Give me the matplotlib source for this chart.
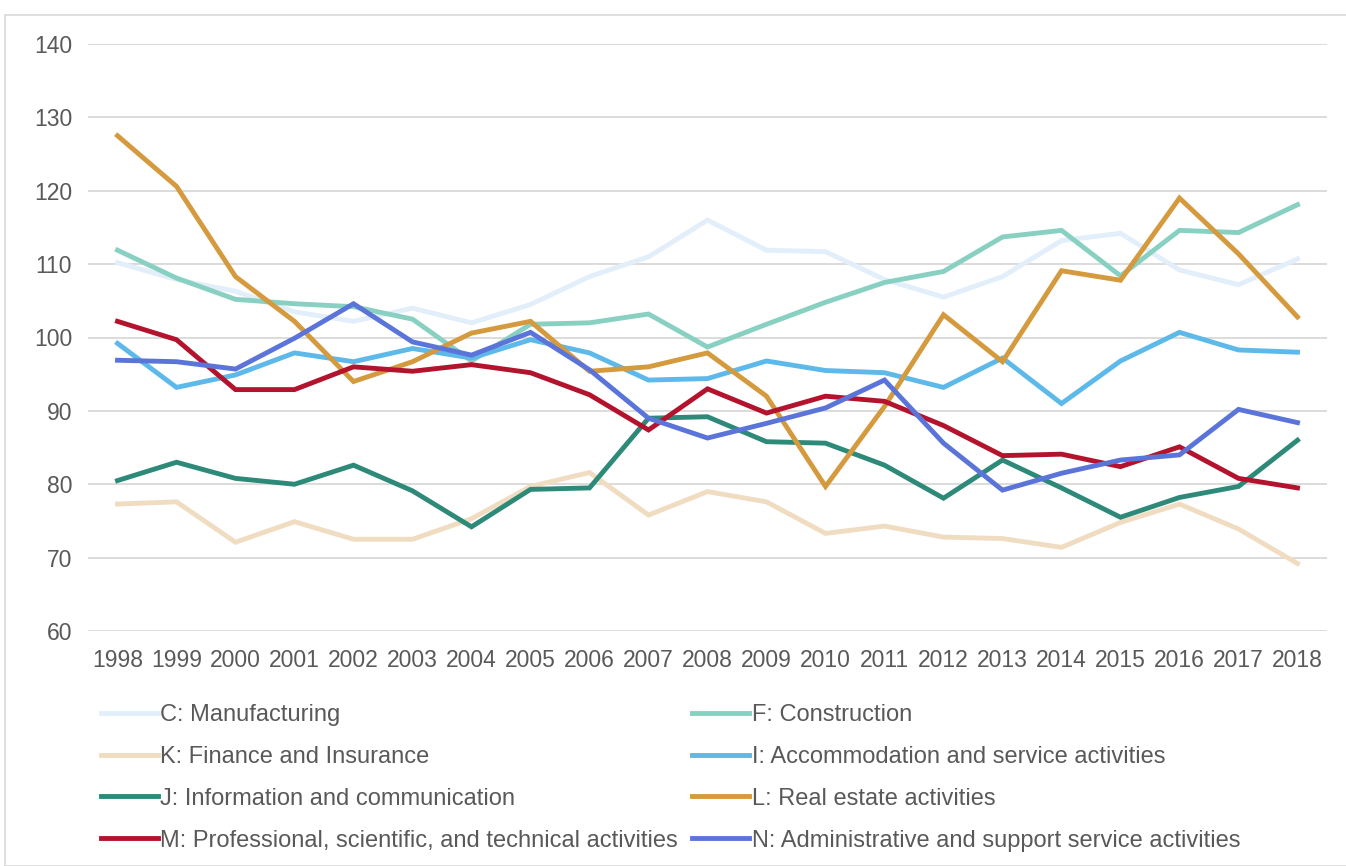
import matplotlib
matplotlib.use("Agg")
import matplotlib.pyplot as plt
from matplotlib.patches import Rectangle

plt.rcParams["font.family"] = ["Liberation Sans", "DejaVu Sans"]

years = list(range(1998, 2019))

manufacturing = [110.2, 107.9, 106.3, 103.5, 102.2, 104.0, 102.0, 104.5, 108.3, 111.0, 116.0,
                 111.9, 111.7, 107.9, 105.5, 108.3, 113.2, 114.2, 109.2, 107.2, 110.7]
construction = [111.9, 108.1, 105.2, 104.6, 104.2, 102.5, 96.8, 101.8, 102.0, 103.2, 98.7,
                101.8, 104.8, 107.5, 109.0, 113.7, 114.6, 108.4, 114.6, 114.3, 118.1]
finance = [77.3, 77.6, 72.1, 74.9, 72.5, 72.5, 75.3, 79.7, 81.6, 75.8, 79.0,
           77.6, 73.3, 74.3, 72.8, 72.6, 71.4, 74.8, 77.3, 73.9, 69.2]
accommodation = [99.2, 93.2, 94.9, 97.9, 96.7, 98.5, 97.2, 99.7, 97.9, 94.2, 94.4,
                 96.8, 95.5, 95.2, 93.2, 97.2, 91.0, 96.8, 100.7, 98.3, 98.0]
information = [80.5, 83.0, 80.8, 80.0, 82.6, 79.1, 74.2, 79.3, 79.5, 89.0, 89.2,
               85.8, 85.6, 82.6, 78.1, 83.3, 79.5, 75.5, 78.2, 79.7, 86.0]
real_estate = [127.5, 120.6, 108.3, 102.2, 94.0, 96.7, 100.6, 102.2, 95.4, 96.0, 97.9,
               92.0, 79.7, 90.6, 103.1, 96.7, 109.1, 107.8, 119.0, 111.4, 102.8]
professional = [102.2, 99.7, 92.9, 92.9, 96.0, 95.4, 96.3, 95.2, 92.2, 87.4, 93.0,
                89.7, 92.0, 91.3, 88.0, 83.9, 84.1, 82.4, 85.1, 80.8, 79.5]
administrative = [96.9, 96.7, 95.7, 99.9, 104.6, 99.4, 97.6, 100.7, 95.6, 89.0, 86.3,
                  88.3, 90.4, 94.2, 85.6, 79.2, 81.5, 83.3, 84.0, 90.2, 88.4]

series = [
    ("C: Manufacturing", manufacturing, "#e2eef9"),
    ("F: Construction", construction, "#88d0c1"),
    ("K: Finance and Insurance", finance, "#f0dcc0"),
    ("I: Accommodation and service activities", accommodation, "#5cb9e9"),
    ("J: Information and communication", information, "#2e8a78"),
    ("L: Real estate activities", real_estate, "#d49a3d"),
    ("M: Professional, scientific, and technical activities", professional, "#b3132c"),
    ("N: Administrative and support service activities", administrative, "#5b74d9"),
]

fig = plt.figure(figsize=(13.46, 8.66), dpi=100)
ax = fig.add_axes([88 / 1346, 1 - 631 / 866, 1239 / 1346, 587 / 866])

handles = {}
for name, vals, color in series:
    line, = ax.plot(years, vals, color=color, linewidth=3.5, label=name,
                    solid_joinstyle="miter")
    handles[name] = line

ax.set_xlim(1997.5, 2018.5)
ax.set_ylim(60, 140)
ax.set_yticks(range(60, 141, 10))
ax.set_xticks(years)
ax.grid(axis="y", color="#d9d9d9", linewidth=1.3)
ax.set_axisbelow(True)
for s in ax.spines.values():
    s.set_visible(False)
ax.tick_params(axis="both", length=0, labelsize=16.5, colors="#595959")
ax.tick_params(axis="y", pad=11.5)
ax.tick_params(axis="x", pad=13)

# legend fills column-wise, so list left column first, then right column
order = [0, 2, 4, 6, 1, 3, 5, 7]
leg = fig.legend([handles[series[i][0]] for i in order],
                 [series[i][0] for i in order],
                 loc="upper left", bbox_to_anchor=(101 / 1346, 1 - 704 / 866),
                 ncol=2, frameon=False, fontsize=17, handlelength=2.4,
                 handletextpad=0.12, columnspacing=0.6, labelspacing=0.84,
                 borderaxespad=0, borderpad=0)
for t in leg.get_texts():
    t.set_color("#595959")

fig.patches.append(Rectangle((5 / 1346, 0), 1.2, 1 - 15 / 866, transform=fig.transFigure,
                             fill=False, edgecolor="#d9d9d9", linewidth=1.2))

fig.savefig("out.png", dpi=100)
